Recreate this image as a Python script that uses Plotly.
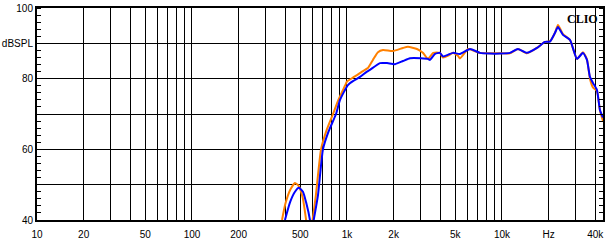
import plotly.graph_objects as go

# --- data (frequency in Hz, level in dBSPL) ---
orange_freq = [381, 400, 430, 462, 490, 520, 545, 570, 600, 630, 680, 740, 813, 880, 971,
               1000, 1093, 1160, 1250, 1365, 1470, 1585, 1710, 1980, 2300, 2475, 2830, 3090,
               3330, 3600, 3980, 4160, 4500, 4830, 5200, 5360, 6040, 6220, 7210, 8370, 9700,
               11260, 12680, 14490, 16820, 18930, 20410, 22000, 22980, 24760, 27470, 30480,
               33340, 35350, 36970, 38650, 41020, 42890, 44870]
orange_db = [40, 44.5, 48.5, 50.5, 49.5, 46, 40, 34, 40, 47, 60, 65.5, 70, 74, 78,
             79.2, 80.3, 81, 82, 83, 85.3, 87.5, 88.1, 87.8, 88.7, 89, 88.4, 87.3,
             85.6, 87.3, 87.3, 86, 86.5, 87.3, 86.5, 85.7, 88.4, 88.3, 87.3, 87.2, 87.2,
             87.2, 88.4, 87.2, 88.7, 90.4, 90.6, 93, 95.2, 92.6, 91, 85.6,
             87.5, 85.5, 80, 77.5, 76.5, 71, 68]

blue_freq = [398, 429, 462, 490, 520, 545, 577, 590, 610, 650, 700, 760, 850, 902, 1014,
             1093, 1213, 1346, 1406, 1633, 1812, 2042, 2298, 2549, 3000, 3330, 3430, 3700,
             3980, 4160, 4500, 4830, 5360, 6220, 7210, 8370, 9700, 11260, 12680, 14490,
             16820, 18930, 20410, 22000, 22980, 24760, 27470, 30480, 33340, 35350, 36970,
             38650, 41020, 42890, 44870]
blue_db = [40, 45, 48, 49.1, 48, 45, 40, 36, 40, 47, 60, 65, 70, 74, 78.2,
           79.3, 80.5, 82, 82.5, 84.4, 84.4, 84.1, 85, 85.8, 85.8, 85.6, 85.3, 87,
           87.3, 86.3, 86.8, 87.3, 87, 88.4, 87.3, 87.1, 87.1, 87.3, 88.4, 87.3,
           88.7, 90.4, 90.5, 93, 94.6, 92.4, 91, 85.6, 87.3, 85.3, 80.5,
           78.8, 76.8, 71.1, 69]

# axis ticks
x_grid = [m * 10 ** d for d in (1, 2, 3) for m in range(1, 10)] + [10000, 20000, 30000, 40000]
x_label_map = {10: "10", 20: "20", 50: "50", 100: "100", 200: "200", 500: "500",
               1000: "1k", 2000: "2k", 5000: "5k", 10000: "10k", 20000: "Hz", 40000: "40k"}
x_text = [x_label_map.get(v, "") for v in x_grid]

y_vals = [40, 50, 60, 70, 80, 90, 100]
y_text = ["40", "", "60", "", "80", "dBSPL", "100"]

fig = go.Figure()
fig.add_trace(go.Scatter(x=orange_freq, y=orange_db, mode="lines",
                         line=dict(color="#FF8000", width=2, shape="spline", smoothing=0.5),
                         showlegend=False, hoverinfo="skip"))
fig.add_trace(go.Scatter(x=blue_freq, y=blue_db, mode="lines",
                         line=dict(color="#0000FF", width=2, shape="spline", smoothing=0.5),
                         showlegend=False, hoverinfo="skip"))

font = dict(family="Liberation Sans, Arial, sans-serif", size=10, color="black")

fig.update_layout(
    width=609, height=244,
    margin=dict(l=37, r=6, t=8, b=24, autoexpand=False),
    paper_bgcolor="white", plot_bgcolor="white",
    font=font,
    hovermode=False,
    xaxis=dict(type="log", range=[1, 4.652], tickmode="array", tickvals=x_grid, ticktext=x_text,
               showgrid=True, gridcolor="black", gridwidth=1,
               showline=True, linecolor="black", linewidth=2, mirror=True,
               ticks="", ticklabelstandoff=4, tickfont=font, zeroline=False, automargin=False),
    yaxis=dict(range=[40, 100], tickmode="array", tickvals=y_vals, ticktext=y_text,
               showgrid=True, gridcolor="black", gridwidth=1,
               showline=True, linecolor="black", linewidth=2, mirror="allticks",
               ticks="", tickfont=font, zeroline=False, automargin=False,
               minor=dict(dtick=2, tick0=40, ticks="inside", ticklen=4, tickcolor="black",
                          tickwidth=1, showgrid=False)),
    annotations=[dict(text="<b>CLIO</b>", xref="paper", yref="paper", x=0.995, y=0.99,
                      xanchor="right", yanchor="top", showarrow=False,
                      font=dict(family="Liberation Serif, Times New Roman, serif", size=12,
                                color="black"))],
)

fig.write_html("out.html",
               config={"displayModeBar": False, "staticPlot": True},
               post_script="document.body.style.margin='0';document.body.style.padding='0';"
                           "document.body.style.overflow='hidden';")
